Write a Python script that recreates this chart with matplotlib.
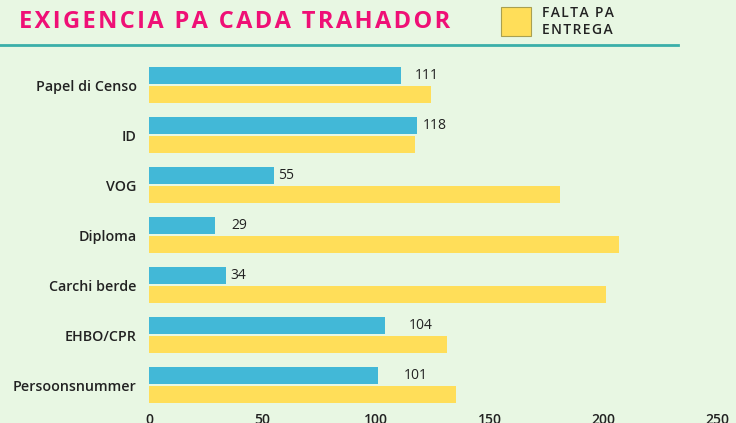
import numpy as np
from matplotlib import pyplot as plt
from matplotlib.patches import Rectangle
from matplotlib.lines import Line2D

# data
categories = ['Papel di Censo', 'ID', 'VOG', 'Diploma',
              'Carchi berde', 'EHBO/CPR', 'Persoonsnummer']
entregá = [111, 118, 55, 29, 34, 104, 101]
falta = [124, 117, 181, 207, 201, 131, 135]
x_ticks = [0, 50, 100, 150, 200, 250]

# label gaps (in points) as they sit in the reference
label_gap = [8, 2, 1, 10, 1, 15, 16]

bg = '#E8F7E3'
blue = '#42B8D7'
yellow = '#FFDE59'
pink = '#EF1076'
teal = '#3AAFA9'
dark = '#222222'

plt.rcParams['font.family'] = ['Open Sans', 'DejaVu Sans']

fig = plt.figure(figsize=(7.36, 4.23), dpi=100, facecolor=bg)
ax = fig.add_axes([149/736, 1 - 410/423, (717 - 149)/736, 350/423])
ax.set_facecolor(bg)

y = np.arange(len(categories))
h = 0.34
ax.barh(y - 0.19, entregá, height=h, color=blue, edgecolor='none')
ax.barh(y + 0.19, falta, height=h, color=yellow, edgecolor='none')

for yi, v, g in zip(y, entregá, label_gap):
    ax.annotate(str(v), (v, yi - 0.19), xytext=(g + 2, 0),
                textcoords='offset points', va='center', ha='left',
                fontsize=10, color=dark)

ax.set_xlim(0, 250)
ax.set_ylim(len(categories) - 0.5, -0.5)
ax.set_yticks(y)
ax.set_yticklabels(categories, fontsize=10.3, fontweight='semibold', color=dark)
ax.set_xticks(x_ticks)
ax.set_xticklabels([str(t) for t in x_ticks], fontsize=10,
                   fontweight='semibold', color=dark)
ax.tick_params(length=0, pad=2)
ax.tick_params(axis='y', pad=9)
for s in ax.spines.values():
    s.set_visible(False)

# header
title = 'EXIGENCIA PA CADA TRAHADOR'
fig.text(19/736, 1 - 22/423, '\u200a'.join(title), fontsize=17,
         fontweight='bold', color=pink, va='center', ha='left')
fig.add_artist(Line2D([0, 678/736], [1 - 45/423, 1 - 45/423],
                      color=teal, lw=2, transform=fig.transFigure))
fig.add_artist(Rectangle((501/736, 1 - 36/423), 30/736, 29/423,
                         facecolor=yellow, edgecolor='#A9A050', lw=0.8,
                         transform=fig.transFigure))
legend_text = ['\u200a'.join(s) for s in ['FALTA PA', 'ENTREGA']]
fig.text(542/736, 1 - 21.5/423, '\n'.join(legend_text), fontsize=10,
         fontweight='semibold', color=dark, va='center', ha='left',
         linespacing=1.25)

fig.savefig('out.png', dpi=100, facecolor=bg)
